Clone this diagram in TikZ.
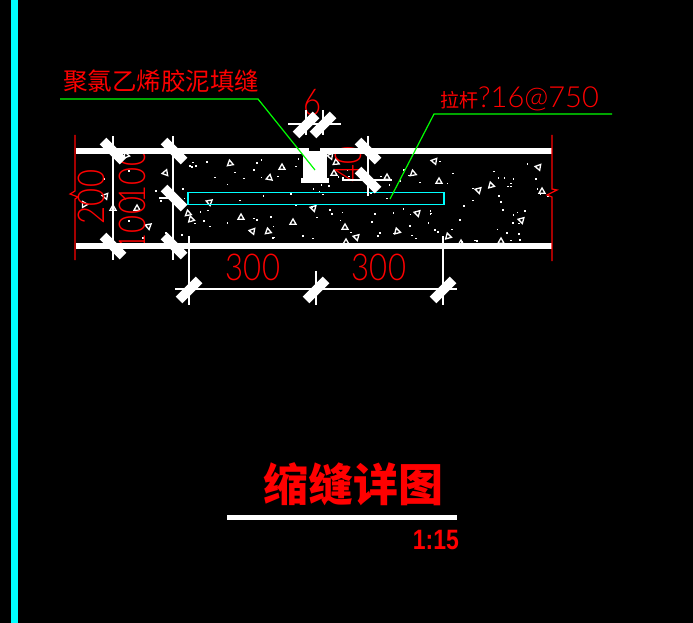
\documentclass[tikz,border=0pt]{standalone}
\usepackage{fontspec}
\setmainfont{Liberation Sans}
\newfontfamily\cjkfont{Noto Sans CJK SC}
\newfontfamily\cadfont{Lato Light}
\newcommand{\cadnum}[1]{\scalebox{.84}[1]{#1}}
\definecolor{cadred}{RGB}{255,0,0}
\definecolor{cadgreen}{RGB}{0,255,0}
\definecolor{cadcyan}{RGB}{0,255,255}
\tikzset{
	slab/.style={line width=6pt, white},
	dimline/.style={line width=1.2pt, white},
	dimtick/.style={line width=9.5pt, white},
	redline/.style={line width=1.2pt, cadred},
	leader/.style={line width=1.2pt, cadgreen},
	dimtext/.style={cadred, inner sep=0pt, font=\cadfont\fontsize{37}{37}\selectfont},
	tri/.style={line width=1.3pt, white},
}
\begin{document}
\begin{tikzpicture}[x=1pt, y=-1pt]
				\fill[black] (0,0) rectangle (693,623);
				\useasboundingbox (0,0) rectangle (693,623);
				\fill[cadcyan] (11,0) rectangle (18,623);
				% concrete filling
				\pgfmathsetseed{4711}
				\foreach \i in {1,...,120}
					\fill[white] ({180+rnd*368},{157+rnd*84}) rectangle ++(1.6,1.6);
				\foreach \x/\y in {120/160,160/200,103/178,142/237,128/170,155/190,128/220,165/232}
					\fill[white] (\x,\y) rectangle ++(1.6,1.6);
				\foreach \x/\y/\r in {126/155/20,230/163/10,282/167/0,165/173/100,269/178/110,330/156/80,336/162/5,334/173/0,
					105/196/80,84/204/30,113/208/0,137/208/0,148/226/70,188/213/10,191/219/15,209/202/70,241/217/0,252/231/80,
					268/231/10,293/222/0,313/208/75,345/227/0,346/242/0,434/161/80,413/173/10,439/181/0,387/177/0,538/167/80,
					491/185/15,478/190/75,542/191/0,417/213/75,521/220/75,397/231/15,356/237/75,448/236/15,501/241/0,461/243/0}
					\draw[tri, shift={(\x,\y)}, rotate=\r] (0,-3) -- (3,2.2) -- (-3,2.2) -- cycle;
				% red dimension texts, the slab lies over them
				\node[dimtext, rotate=90] (dimA)at(91, 197) {\cadnum{200}};
				\node[dimtext, rotate=90] (dimB)at(132, 224) {\cadnum{100}};
				\node[dimtext, rotate=90] (dimC)at(132, 176) {\cadnum{100}};
				\node[dimtext, rotate=90] (dimD)at(348, 164) {\cadnum{40}};
				\node[dimtext] (dimE)at(313, 103) {\cadnum{6}};
				\node[dimtext] (dimF)at(253, 267) {\cadnum{300}};
				\node[dimtext] (dimG)at(379, 267) {\cadnum{300}};
				% slab and joint
				\draw[slab] (76,151) -- (552,151);
				\draw[slab] (76,246) -- (552,246);
				\fill[white] (303,154) rectangle (326.5,179);
				\fill[white] (301,178) rectangle (329,183);
				\fill[black] (309,148) rectangle (320,151);
				\draw[line width=1.2pt, cadcyan] (188,192.5) rectangle (444,204.5);
				% break lines
				\draw[redline] (75,135) -- (75,191) -- (70,194) -- (78,197) -- (75,199) -- (75,260);
				\draw[redline] (552,135) -- (552,189) -- (557,190) -- (547,195) -- (552,197) -- (552,261);
				% extension and dimension lines
				\foreach \x in {113,173}
					\draw[dimline] (\x,136) -- (\x,260);
				\draw[dimline] (368,136) -- (368,196);
				\draw[dimline] (342,180) -- (392,180);
				\draw[dimline] (159,198) -- (174,198);
				\draw[dimline] (288,124) -- (341,124);
				\foreach \x in {306,323}
					\draw[dimline] (\x,110) -- (\x,135);
				\draw[dimline] (175,289) -- (457,289);
				\foreach \x in {189,443}
					\draw[dimline] (\x,236) -- (\x,305);
				\draw[dimline] (316,271) -- (316,305);
				\foreach \x/\y in {113/151,174/151,174/198,113/246,174/246,368/151,368/180}
					\draw[dimtick] (\x-10,\y-10) -- (\x+10,\y+10);
				\foreach \x/\y in {306/125,323/125,189/290,316/290,443/290}
					\draw[dimtick] (\x-10,\y+10) -- (\x+10,\y-10);
				% leaders
				\coordinate (leadA)at(60, 99);
				\coordinate (kneeA)at(258, 99);
				\coordinate (tipA)at(315, 170);
				\coordinate (leadB)at(612, 114);
				\coordinate (kneeB)at(434, 114);
				\coordinate (tipB)at(390, 199);
				\draw[leader] (leadA) -- (kneeA) -- (tipA);
				\draw[leader] (leadB) -- (kneeB) -- (tipB);
				\node[cadred, inner sep=0pt, font=\cjkfont\fontsize{24.5}{25}\selectfont] (filler)at(161, 81) {聚氯乙烯胶泥填缝};
				\node[cadred, inner sep=0pt, anchor=west, font=\cadfont\fontsize{29}{29}\selectfont] (tieBar)at(440, 99) {{\cjkfont\fontsize{19}{19}\selectfont 拉杆}?16@750};
				% title
				\node[cadred, inner sep=0pt, font=\cjkfont\bfseries\fontsize{45}{45}\selectfont] (title)at(353, 484) {缩缝详图};
				\draw[line width=5pt, white] (227,517) -- (457,517);
				\node[cadred, inner sep=0pt, anchor=east, font=\bfseries\fontsize{28}{28}\selectfont] (scaleNote)at(459, 540) {\scalebox{.82}[1]{1:15}};
			\end{tikzpicture}
\end{document}
